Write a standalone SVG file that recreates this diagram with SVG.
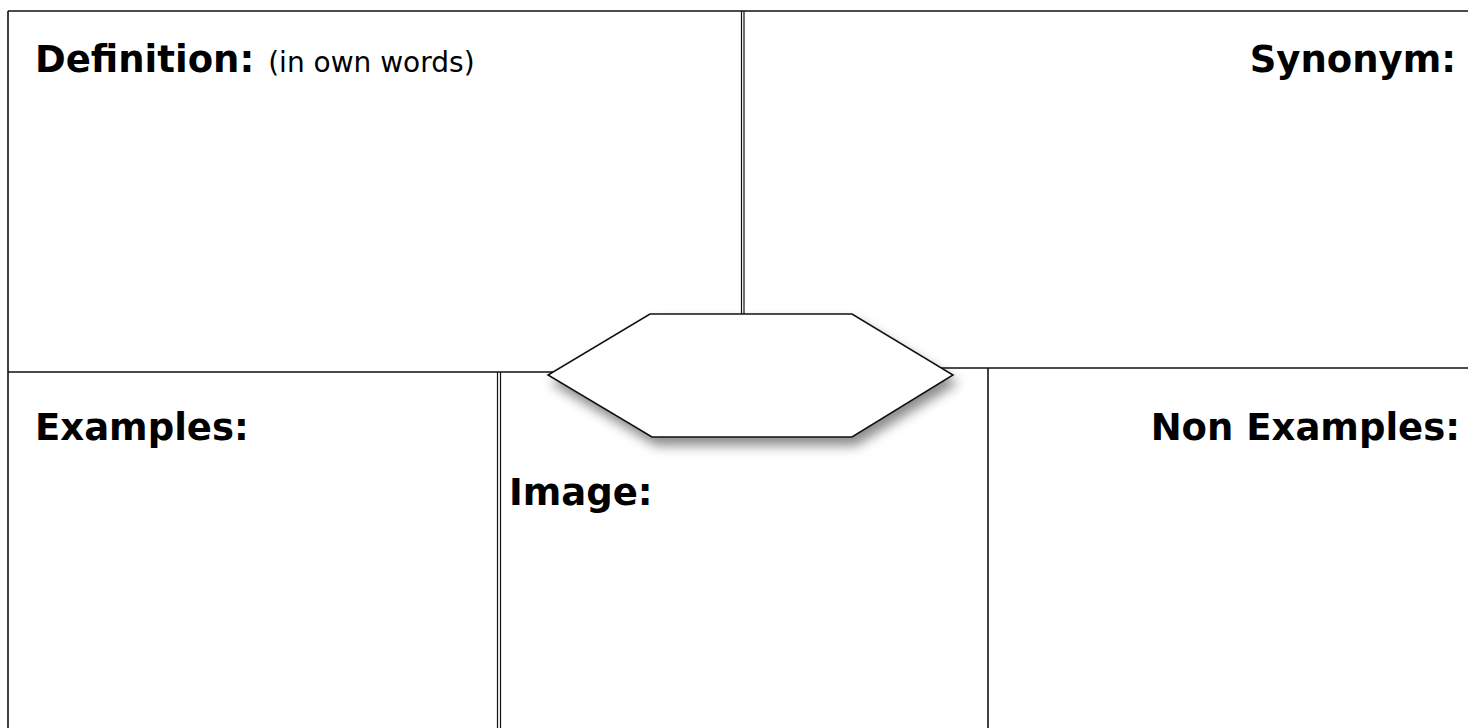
<svg xmlns="http://www.w3.org/2000/svg" width="1468" height="728" viewBox="0 0 1468 728">
<style>
.ln{stroke:#111;stroke-width:1.6;fill:none}
.dl{stroke:#111;stroke-width:1.2;fill:none}
.h{font-family:"DejaVu Sans",Verdana,sans-serif;font-weight:bold;font-size:37px;fill:#000}
.s{font-family:"DejaVu Sans",Verdana,sans-serif;font-weight:normal;font-size:28px;fill:#000}
</style>
<defs>
<filter id="sh" x="-20%" y="-30%" width="150%" height="180%">
<feDropShadow dx="4" dy="8" stdDeviation="6" flood-color="#000" flood-opacity="0.45"/>
</filter>
</defs>
<rect width="1468" height="728" fill="#fff"/>
<g id="connectors">
<line class="ln" x1="8" y1="11" x2="1468" y2="11"/>
<line class="ln" x1="8" y1="11" x2="8" y2="728"/>
<line class="ln" x1="8" y1="372" x2="560" y2="372"/>
<line class="ln" x1="940" y1="368" x2="1468" y2="368"/>
<line class="dl" x1="741.5" y1="11" x2="741.5" y2="314"/>
<line class="dl" x1="744" y1="11" x2="744" y2="314"/>
<line class="dl" x1="497.5" y1="372" x2="497.5" y2="728"/>
<line class="dl" x1="500.5" y1="372" x2="500.5" y2="728"/>
<line class="ln" x1="988" y1="368" x2="988" y2="728"/>
</g>
<g id="definition">
<text class="h" x="35" y="72">Definition:<tspan class="s" dx="14">(in own words)</tspan></text>
</g>
<g id="synonym">
<text class="h" x="1456" y="72" text-anchor="end">Synonym:</text>
</g>
<g id="examples">
<text class="h" x="35" y="440">Examples:</text>
</g>
<g id="image">
<text class="h" x="509" y="505">Image:</text>
</g>
<g id="non-examples">
<text class="h" x="1460" y="440" text-anchor="end">Non Examples:</text>
</g>
<g id="hexagon">
<polygon points="650,314 852,314 953,375 852,437 652,437 548,375" fill="#fff" stroke="#111" stroke-width="1.5" filter="url(#sh)"/>
</g>
</svg>
